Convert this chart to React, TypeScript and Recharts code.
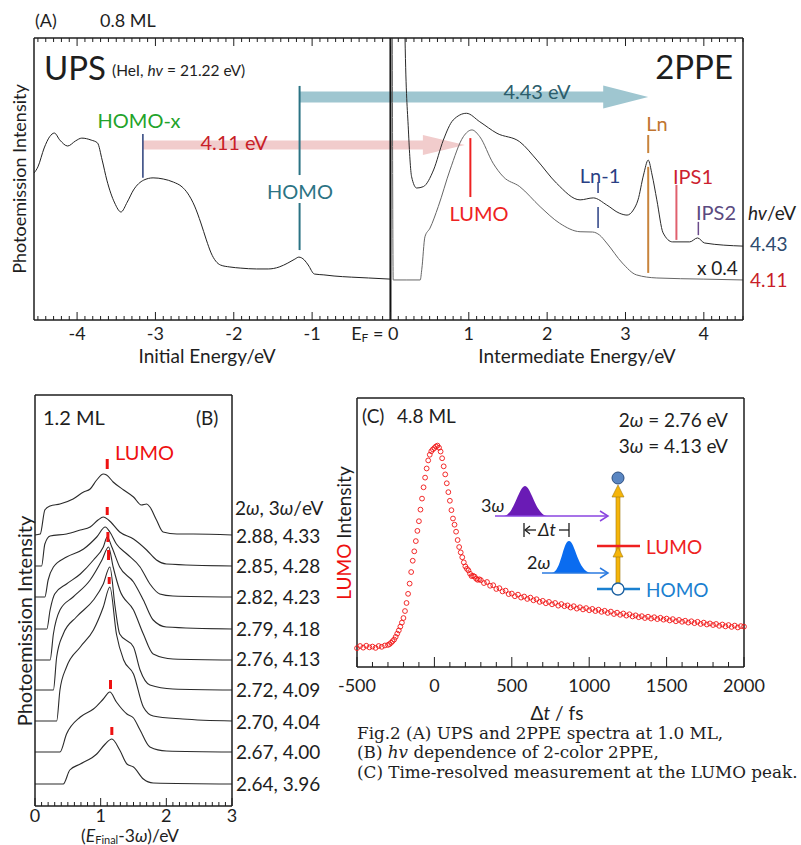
import React from 'react';
import { LineChart, ScatterChart, Line, Scatter, XAxis, YAxis, ReferenceLine } from 'recharts';

const FONT = 'Lato, "Open Sans", sans-serif';
const INK = '#1e1e1e';

// ---- (A) UPS / 2PPE spectra ----
const upsEnergy = [-4.55, -4.5, -4.42, -4.35, -4.29, -4.22, -4.12, -4.02, -3.94, -3.82, -3.74, -3.68, -3.62, -3.52, -3.44, -3.36, -3.28, -3.15, -3.03, -2.9, -2.77, -2.66, -2.59, -2.5, -2.42, -2.35, -2.29, -2.17, -2.05, -1.91, -1.71, -1.56, -1.42, -1.31, -1.22, -1.17, -1.1, -1.05, -0.97, -0.85, -0.72, -0.5, -0.28, 0];
const upsIntensity = [52.1, 54.3, 61, 65, 66.3, 63.8, 61.7, 63.5, 64.5, 63.8, 62.8, 56.7, 49.6, 41.5, 38.3, 41.8, 46.1, 49.6, 50.4, 50, 48.9, 47.2, 45, 40.4, 34.4, 28.4, 23.8, 19.5, 18.8, 18.4, 18.1, 18.1, 18.8, 20.2, 21.6, 22.3, 21.3, 19.5, 16.3, 16, 15.6, 15.2, 14.9, 14.5];

const ppe443Energy = [0.17, 0.186, 0.229, 0.27, 0.335, 0.42, 0.55, 0.675, 0.8, 0.97, 1.14, 1.36, 1.65, 1.87, 2.12, 2.42, 2.59, 2.76, 2.92, 3.02, 3.1, 3.16, 3.23, 3.29, 3.34, 3.4, 3.48, 3.6, 3.82, 3.92, 4.01, 4.5];
const ppe443Intensity = [150, 100, 67.4, 50.8, 46.8, 47.3, 53.2, 63.8, 70.9, 73.3, 70.3, 66.2, 63.2, 56.7, 48.5, 42.6, 43.3, 40.8, 37.9, 37.2, 39, 42.6, 51.4, 56.7, 51.4, 42.6, 30.9, 27.7, 27.7, 29.1, 27.3, 26.2];

const ppe411Energy = [0.02, 0.035, 0.2, 0.38, 0.4, 0.44, 0.505, 0.61, 0.76, 0.93, 1.04, 1.14, 1.31, 1.44, 1.65, 1.91, 2.16, 2.42, 2.58, 2.67, 2.76, 2.96, 3.14, 3.4, 4.0, 4.5];
const ppe411Intensity = [150, 14.2, 14.2, 14.2, 18, 29.5, 32.6, 40.2, 53.2, 65, 67.4, 65, 55.6, 50.8, 47.3, 40.2, 34.3, 31.3, 31.2, 30.1, 27.3, 20.2, 16, 14.9, 14.5, 14.2];

// level energies (eV)
const homoX = -3.16;
const homo = -1.16;
const lumo = 1.02;
const ln1 = 2.65;
const ln = 3.29;
const ips1 = 3.65;
const ips2 = 3.93;
const photon443End = 3.29;
const photon411End = 0.95;

// ---- (B) photon energy dependence ----
const bE288 = [0, 0.08, 0.15, 0.23, 0.38, 0.58, 0.74, 0.84, 0.94, 1.04, 1.09, 1.19, 1.35, 1.5, 1.62, 1.7, 1.75, 1.85, 1.95, 2.16, 2.41, 3.0];
const bI288 = [271, 272, 296, 300, 302, 307, 314, 317, 326, 332, 331, 324, 316, 309, 301, 302, 299, 286, 274, 272, 272, 271];
const bE285 = [0, 0.1, 0.15, 0.23, 0.48, 0.69, 0.84, 0.96, 1.04, 1.12, 1.29, 1.5, 1.7, 1.85, 2.0, 3.0];
const bI285 = [240, 240, 262, 270, 272, 276, 279, 286, 289, 286, 274, 267, 256, 246, 242, 240];
const bE282 = [0, 0.15, 0.2, 0.28, 0.48, 0.74, 0.94, 1.07, 1.14, 1.24, 1.4, 1.6, 1.75, 1.9, 2.1, 3.0];
const bI282 = [209, 209, 226, 239, 249, 257, 269, 279, 274, 262, 252, 239, 222, 212, 210, 209];
const bE279 = [0, 0.18, 0.23, 0.3, 0.48, 0.69, 0.89, 1.04, 1.1, 1.17, 1.29, 1.5, 1.65, 1.8, 2.0, 3.0];
const bI279 = [177, 177, 196, 212, 222, 232, 246, 259, 269, 259, 239, 224, 206, 186, 179, 177];
const bE276 = [0, 0.23, 0.28, 0.38, 0.58, 0.84, 1.02, 1.12, 1.19, 1.29, 1.5, 1.65, 1.8, 2.1, 3.0];
const bI276 = [146, 146, 172, 196, 209, 226, 246, 259, 239, 216, 196, 172, 152, 147, 146];
const bE272 = [0, 0.28, 0.33, 0.43, 0.63, 0.89, 1.04, 1.14, 1.22, 1.29, 1.5, 1.6, 1.75, 2.1, 3.0];
const bI272 = [116, 116, 149, 172, 189, 206, 222, 239, 199, 172, 159, 136, 121, 117, 116];
const bE270 = [0, 0.33, 0.38, 0.48, 0.69, 0.89, 1.04, 1.14, 1.24, 1.35, 1.5, 1.65, 1.8, 2.25, 3.0];
const bI270 = [85, 85, 116, 139, 159, 176, 199, 219, 172, 146, 132, 99, 90, 87, 85];
const bE267 = [0, 0.38, 0.48, 0.69, 0.89, 1.04, 1.14, 1.24, 1.4, 1.5, 1.6, 1.75, 2.0, 3.0];
const bI267 = [54, 54, 72, 89, 97, 107, 114, 104, 92, 88, 76, 59, 55, 54];
const bE264 = [0, 0.43, 0.53, 0.69, 0.94, 1.07, 1.17, 1.29, 1.4, 1.5, 1.65, 1.8, 3.0];
const bI264 = [22, 22, 36, 42, 52, 62, 67, 56, 42, 39, 27, 23, 22];
const bLabels = ['2.88, 4.33', '2.85, 4.28', '2.82, 4.23', '2.79, 4.18', '2.76, 4.13', '2.72, 4.09', '2.70, 4.04', '2.67, 4.00', '2.64, 3.96'];
// LUMO peak marks: energy, top, bottom
const bMarkE = [1.1, 1.1, 1.11, 1.12, 1.13, 1.15, 1.17];
const bMarkTop = [347, 299, 274, 256, 229, 126, 79];
const bMarkBottom = [337, 291, 264, 246, 222, 117, 71];

// ---- (C) time-resolved LUMO intensity ----
const cDelay = [
  -500, -480, -460, -440, -420, -400, -380, -360, -340, -320,
  -300, -290, -280, -270, -260, -250, -240, -230, -220, -210,
  -200, -190, -180, -170, -160, -150, -140, -130, -120, -110,
  -100, -90, -80, -70, -60, -50, -40, -30, -20, -10,
  0, 10, 20, 30, 40, 50, 60, 70, 80, 90,
  100, 110, 120, 130, 140, 150, 160, 170, 180, 190,
  200, 210, 220, 230, 240, 250, 260, 270, 280, 290,
  300, 320, 340, 360, 380, 400, 420, 440, 460, 480,
  500, 520, 540, 560, 580, 600, 620, 640, 660, 680,
  700, 720, 740, 760, 780, 800, 820, 840, 860, 880,
  900, 920, 940, 960, 980, 1000, 1020, 1040, 1060, 1080,
  1100, 1120, 1140, 1160, 1180, 1200, 1220, 1240, 1260, 1280,
  1300, 1320, 1340, 1360, 1380, 1400, 1420, 1440, 1460, 1480,
  1500, 1520, 1540, 1560, 1580, 1600, 1620, 1640, 1660, 1680,
  1700, 1720, 1740, 1760, 1780, 1800, 1820, 1840, 1860, 1880,
  1900, 1920, 1940, 1960, 1980, 2000,
];
const cIntensity = [
  7.0, 7.8, 7.2, 7.9, 7.3, 7.6, 7.1, 7.8, 7.5, 8.0,
  8.2, 8.5, 9.0, 9.6, 10.2, 11.2, 12.4, 13.6, 15.0, 16.5,
  18.2, 20.8, 23.8, 27.2, 31.0, 35.3, 39.5, 43.0, 46.8, 50.6,
  54.2, 58.5, 62.6, 66.8, 70.4, 73.8, 76.8, 78.9, 80.2, 80.9,
  81.4, 82.0, 82.3, 81.5, 80.1, 77.6, 74.6, 71.6, 68.3, 65.0,
  61.8, 58.3, 55.2, 52.9, 50.3, 47.2, 44.6, 42.6, 40.8, 38.9,
  37.4, 36.5, 35.9, 34.7, 33.8, 33.9, 33.6, 32.8, 32.4, 32.6,
  32.3, 31.2, 31.6, 30.2, 30.4, 29.0, 29.3, 28.1, 28.4, 27.1,
  27.3, 26.3, 26.9, 25.8, 26.2, 25.3, 25.8, 24.8, 25.2, 24.2,
  24.6, 23.7, 24.2, 23.3, 23.8, 22.8, 23.4, 22.6, 22.9, 22.1,
  22.6, 21.7, 22.2, 21.4, 21.9, 21.1, 21.6, 20.8, 21.3, 20.5,
  20.9, 20.1, 20.6, 19.7, 20.2, 19.4, 19.9, 19.1, 19.6, 18.8,
  19.2, 18.5, 18.9, 18.2, 18.7, 18.0, 18.5, 17.8, 18.3, 17.6,
  18.0, 17.3, 17.8, 17.0, 17.5, 16.8, 17.2, 16.5, 17.0, 16.3,
  16.8, 16.0, 16.5, 15.8, 16.2, 15.6, 16.0, 15.3, 15.8, 15.1,
  15.6, 14.9, 15.4, 14.7, 15.2, 15.0,
];
const cMajorLabels = [-500, 0, 500, 1000, 1500, 2000];

const pts = (xs: number[], ys: number[]) => xs.map((x, i) => ({ x, y: ys[i] }));
const range = (a: number, b: number, step: number) =>
  Array.from({ length: Math.round((b - a) / step) + 1 }, (_, i) => Math.round((a + i * step) * 1000) / 1000);

const isMult = (v: number, m: number) => Math.abs(v / m - Math.round(v / m)) < 1e-6;

// tick drawn inside the frame, with optional label below
const makeTick = (dir: 1 | -1, every: number, major: number, minor: number, labelDy?: number, labels?: number[]) =>
  (props: any) => {
    const { x, y, payload } = props;
    const v: number = payload.value;
    const maj = isMult(v, every);
    const showLabel = labelDy !== undefined && maj && (!labels || labels.includes(v));
    return (
      <g>
        <line x1={x} x2={x} y1={y} y2={y + dir * (maj ? major : minor)} stroke={INK} strokeWidth={1} />
        {showLabel ? (
          <text x={x} y={y + labelDy} textAnchor="middle" dominantBaseline="central" fontSize={18} fontFamily={FONT} fill={INK}>
            {v}
          </text>
        ) : null}
      </g>
    );
  };

const aBottomTick = (props: any) => {
  const { x, y, payload } = props;
  const v: number = payload.value;
  const maj = isMult(v, 1);
  return (
    <g>
      <line x1={x} x2={x} y1={y} y2={y - (maj ? 8 : 4)} stroke={INK} strokeWidth={1} />
      {maj && v !== 0 ? (
        <text x={x} y={y + 13} textAnchor="middle" dominantBaseline="central" fontSize={18} fontFamily={FONT} fill={INK}>{v}</text>
      ) : null}
      {v === 0 ? (
        <text x={x + 8} y={y + 13} textAnchor="end" dominantBaseline="central" fontSize={18} fontFamily={FONT} fill={INK}>
          <tspan>E</tspan>
          <tspan fontSize={12} dy={4}>F</tspan>
          <tspan dy={-4}> = 0</tspan>
        </text>
      ) : null}
    </g>
  );
};

const arrowShape = (color: string, thick: number, headW: number, headL: number) => (p: any) => {
  const { x1, y1, x2 } = p;
  const xb = x2 - headL;
  const d = `M${x1},${y1 - thick / 2} L${xb},${y1 - thick / 2} L${xb},${y1 - headW / 2} L${x2},${y1} L${xb},${y1 + headW / 2} L${xb},${y1 + thick / 2} L${x1},${y1 + thick / 2} Z`;
  return <path d={d} fill={color} />;
};

const Label = ({ x, y, size = 19, color = INK, anchor = 'start', family = FONT, children }: any) => {
  const tx = anchor === 'middle' ? '-50%' : anchor === 'end' ? '-100%' : '0';
  return (
    <div style={{ position: 'absolute', left: x, top: y, transform: `translate(${tx}, -50%)`, fontSize: size, color, lineHeight: 1, whiteSpace: 'nowrap', fontFamily: family }}>
      {children}
    </div>
  );
};

const VLabel = ({ x, y, size = 19, children }: any) => (
  <div style={{ position: 'absolute', left: x, top: y, transform: 'translate(-50%, -50%) rotate(-90deg)', fontSize: size, color: INK, lineHeight: 1, whiteSpace: 'nowrap', fontFamily: FONT }}>
    {children}
  </div>
);

const frameAxis = { stroke: INK, strokeWidth: 1.5 };

function PanelA() {
  const ticks = range(-4.5, 4.5, 0.1);
  const seg = (e: number, a: number, b: number) => [{ x: e, y: a }, { x: e, y: b }] as any;
  return (
    <div style={{ position: 'absolute', left: 0, top: 0 }}>
      <LineChart width={801} height={380} margin={{ top: 37, right: 57, bottom: 59, left: 33 }}>
        <XAxis xAxisId="b" type="number" dataKey="x" domain={[-4.55, 4.5]} allowDataOverflow ticks={ticks} interval={0} height={1} tickSize={0} tickMargin={0} tickLine={false} axisLine={frameAxis} tick={aBottomTick} />
        <XAxis xAxisId="t" orientation="top" type="number" dataKey="x" domain={[-4.55, 4.5]} allowDataOverflow ticks={ticks} interval={0} height={1} tickSize={0} tickMargin={0} tickLine={false} axisLine={frameAxis} tick={makeTick(1, 1, 8, 4)} />
        <YAxis yAxisId="l" type="number" domain={[0, 100]} allowDataOverflow width={1} tick={false} tickLine={false} axisLine={frameAxis} />
        <YAxis yAxisId="r" orientation="right" type="number" domain={[0, 100]} width={1} tick={false} tickLine={false} axisLine={frameAxis} />

        <ReferenceLine xAxisId="b" yAxisId="l" segment={[{ x: homo, y: 79.1 }, { x: photon443End, y: 79.1 }]} shape={arrowShape('#9fc6d0', 11, 23, 45)} />
        <ReferenceLine xAxisId="b" yAxisId="l" segment={[{ x: homoX, y: 62.1 }, { x: photon411End, y: 62.1 }]} shape={arrowShape('#f1cccc', 9, 20, 42)} />
        <ReferenceLine xAxisId="b" yAxisId="l" x={0} stroke="#111" strokeWidth={2} />

        <ReferenceLine xAxisId="b" yAxisId="l" segment={seg(homoX, 66, 50.4)} stroke="#2a3f7a" strokeWidth={1.5} />
        <ReferenceLine xAxisId="b" yAxisId="l" segment={seg(homo, 83, 51.4)} stroke="#2b7384" strokeWidth={2} />
        <ReferenceLine xAxisId="b" yAxisId="l" segment={seg(homo, 41.5, 24.8)} stroke="#2b7384" strokeWidth={2} />
        <ReferenceLine xAxisId="b" yAxisId="l" segment={seg(lumo, 64.5, 43.6)} stroke="#ee2222" strokeWidth={2} />
        <ReferenceLine xAxisId="b" yAxisId="l" segment={seg(ln1, 48.9, 45)} stroke="#2a3f84" strokeWidth={1.5} />
        <ReferenceLine xAxisId="b" yAxisId="l" segment={seg(ln1, 40.1, 32.6)} stroke="#2a3f84" strokeWidth={1.5} />
        <ReferenceLine xAxisId="b" yAxisId="l" segment={seg(ln, 65.6, 59.2)} stroke="#c8843c" strokeWidth={2} />
        <ReferenceLine xAxisId="b" yAxisId="l" segment={seg(ln, 54.3, 16.7)} stroke="#c8843c" strokeWidth={2} />
        <ReferenceLine xAxisId="b" yAxisId="l" segment={seg(ips1, 47.9, 28.4)} stroke="#e0606e" strokeWidth={2} />
        <ReferenceLine xAxisId="b" yAxisId="l" segment={seg(ips2, 34.8, 30.1)} stroke="#6a4a8a" strokeWidth={1.5} />

        <Line xAxisId="b" yAxisId="l" data={pts(upsEnergy, upsIntensity)} dataKey="y" type="monotone" stroke="#222" strokeWidth={1} dot={false} isAnimationActive={false} />
        <Line xAxisId="b" yAxisId="l" data={pts(ppe443Energy, ppe443Intensity)} dataKey="y" type="monotone" stroke="#2a2a2a" strokeWidth={1} dot={false} isAnimationActive={false} />
        <Line xAxisId="b" yAxisId="l" data={pts(ppe411Energy, ppe411Intensity)} dataKey="y" type="monotone" stroke="#666" strokeWidth={1} dot={false} isAnimationActive={false} />
      </LineChart>
    </div>
  );
}

function PanelB() {
  const ticks = range(0, 3, 0.1);
  const traces = [
    pts(bE288, bI288), pts(bE285, bI285), pts(bE282, bI282), pts(bE279, bI279), pts(bE276, bI276),
    pts(bE272, bI272), pts(bE270, bI270), pts(bE267, bI267), pts(bE264, bI264),
  ];
  return (
    <div style={{ position: 'absolute', left: 0, top: 380 }}>
      <LineChart width={330} height={465} margin={{ top: 14, right: 97, bottom: 38, left: 34 }}>
        <XAxis xAxisId="b" type="number" dataKey="x" domain={[0, 3]} ticks={ticks} interval={0} height={1} tickSize={0} tickMargin={0} tickLine={false} axisLine={frameAxis} tick={makeTick(-1, 1, 8, 4, 9)} />
        <XAxis xAxisId="t" orientation="top" type="number" dataKey="x" domain={[0, 3]} ticks={ticks} interval={0} height={1} tickSize={0} tickMargin={0} tickLine={false} axisLine={frameAxis} tick={makeTick(1, 1, 8, 4)} />
        <YAxis yAxisId="l" type="number" domain={[0, 411]} width={1} tick={false} tickLine={false} axisLine={frameAxis} />
        <YAxis yAxisId="r" orientation="right" type="number" domain={[0, 411]} width={1} tick={false} tickLine={false} axisLine={frameAxis} />
        {traces.map((d, i) => (
          <Line key={i} xAxisId="b" yAxisId="l" data={d} dataKey="y" type="monotone" stroke="#2a2a2a" strokeWidth={1.1} dot={false} isAnimationActive={false} />
        ))}
        {bMarkE.map((e, i) => (
          <ReferenceLine key={'m' + i} xAxisId="b" yAxisId="l" segment={[{ x: e, y: bMarkTop[i] }, { x: e, y: bMarkBottom[i] }]} stroke="#ee1111" strokeWidth={3} />
        ))}
      </LineChart>
    </div>
  );
}

const ring = (p: any) => <circle cx={p.cx} cy={p.cy} r={2.4} fill="none" stroke="#f01414" strokeWidth={0.9} />;

function PanelC() {
  const ticks = range(-500, 2000, 100);
  return (
    <div style={{ position: 'absolute', left: 330, top: 380 }}>
      <ScatterChart width={471} height={320} margin={{ top: 17, right: 56, bottom: 32, left: 26 }}>
        <XAxis xAxisId="b" type="number" dataKey="x" domain={[-500, 2000]} ticks={ticks} interval={0} height={1} tickSize={0} tickMargin={0} tickLine={false} axisLine={frameAxis} tick={makeTick(-1, 500, 10, 5, 18, cMajorLabels)} />
        <XAxis xAxisId="t" orientation="top" type="number" dataKey="x" domain={[-500, 2000]} ticks={ticks} interval={0} height={1} tickSize={0} tickMargin={0} tickLine={false} axisLine={frameAxis} tick={makeTick(1, 500, 10, 5)} />
        <YAxis yAxisId="l" type="number" dataKey="y" domain={[0, 100]} width={1} tick={false} tickLine={false} axisLine={frameAxis} />
        <YAxis yAxisId="r" orientation="right" type="number" dataKey="y" domain={[0, 100]} width={1} tick={false} tickLine={false} axisLine={frameAxis} />
        <Scatter xAxisId="b" yAxisId="l" data={pts(cDelay, cIntensity)} shape={ring} isAnimationActive={false} />
      </ScatterChart>
    </div>
  );
}

function Schematic() {
  return (
    <svg width={801} height={845} style={{ position: 'absolute', left: 0, top: 0, pointerEvents: 'none' }}>
      {/* 3w pulse */}
      <path d="M504,516 C514,515 519,486 525,486 C531,486 536,515 547,516 Z" fill="#6a1bb5" />
      <line x1={495} y1={516} x2={607} y2={516} stroke="#8a44e0" strokeWidth={1.5} />
      <polyline points="600,511 608,516 600,521" fill="none" stroke="#8a44e0" strokeWidth={1.5} />
      {/* delay bracket */}
      <line x1={524} y1={523} x2={524} y2={537} stroke={INK} strokeWidth={1.3} />
      <line x1={525} y1={530} x2={536} y2={530} stroke={INK} strokeWidth={1.3} />
      <polyline points="530,526 525,530 530,534" fill="none" stroke={INK} strokeWidth={1.3} />
      <text x={538} y={536} fontSize={18} fontStyle="italic" fontFamily={FONT} fill={INK}>Δt</text>
      <line x1={559} y1={530} x2={569} y2={530} stroke={INK} strokeWidth={1.3} />
      <line x1={569} y1={523} x2={569} y2={537} stroke={INK} strokeWidth={1.3} />
      {/* 2w pulse */}
      <path d="M552,573 C561,572 563,541 569,541 C575,541 578,572 591,573 Z" fill="#0a6cf0" />
      <line x1={542} y1={573} x2={607} y2={573} stroke="#2a7ae0" strokeWidth={1.5} />
      <polyline points="600,568 608,573 600,578" fill="none" stroke="#2a7ae0" strokeWidth={1.5} />
      {/* excitation arrow */}
      <rect x={616} y={494} width={4} height={95} fill="#f5b50a" stroke="#a07810" strokeWidth={0.6} />
      <polygon points="612,497 618,485 624,497" fill="#f5b50a" stroke="#a07810" strokeWidth={0.6} />
      <polygon points="613,557 618,547 623,557" fill="#f5b50a" stroke="#a07810" strokeWidth={0.6} />
      <circle cx={618} cy={478} r={6} fill="#5a86c2" stroke="#2d4f80" strokeWidth={1} />
      <line x1={597} y1={546} x2={640} y2={546} stroke="#ee2020" strokeWidth={2.5} />
      <line x1={597} y1={589} x2={640} y2={589} stroke="#1a80d0" strokeWidth={2.5} />
      <circle cx={618} cy={589} r={6} fill="#fff" stroke="#1a5fa0" strokeWidth={1.3} />
    </svg>
  );
}

const SERIF = '"DejaVu Serif", serif';

export default function App() {
  return (
    <div style={{ position: 'absolute', left: 0, top: 0, width: 801, height: 845, background: '#fff', fontFamily: FONT, color: INK, overflow: 'hidden' }}>
      <PanelA />
      <PanelB />
      <PanelC />
      <Schematic />

      {/* (A) annotations */}
      <Label x={35} y={20} size={18}>(A)</Label>
      <Label x={100} y={20} size={18}>0.8 ML</Label>
      <Label x={44} y={67} size={33}>UPS</Label>
      <Label x={112} y={71} size={15.5}>(HeI, <i>hv</i> = 21.22 eV)</Label>
      <Label x={733} y={66} size={33} anchor="end">2PPE</Label>
      <Label x={537} y={91} size={20} anchor="middle" color="#2b5d6b">4.43 eV</Label>
      <Label x={234} y={142} size={20} anchor="middle" color="#c81e28">4.11 eV</Label>
      <Label x={139} y={120} size={20} anchor="middle" color="#23a32a">HOMO-x</Label>
      <Label x={300} y={191} size={20} anchor="middle" color="#2b7384">HOMO</Label>
      <Label x={479} y={213} size={20} anchor="middle" color="#ee2222">LUMO</Label>
      <Label x={600} y={175} size={20} anchor="middle" color="#2a3f84">Ln-1</Label>
      <Label x={657} y={123} size={20} anchor="middle" color="#c07530">Ln</Label>
      <Label x={693} y={176} size={20} anchor="middle" color="#cc1f2f">IPS1</Label>
      <Label x={716} y={212} size={20} anchor="middle" color="#5b4a80">IPS2</Label>
      <Label x={748} y={212} size={19}><i>hv</i>/eV</Label>
      <Label x={750} y={243} size={19} color="#2d4a6e">4.43</Label>
      <Label x={697} y={267} size={19}>x 0.4</Label>
      <Label x={750} y={279} size={19} color="#c81e28">4.11</Label>
      <Label x={207} y={355} size={19} anchor="middle">Initial Energy/eV</Label>
      <Label x={577} y={355} size={19} anchor="middle">Intermediate Energy/eV</Label>
      <VLabel x={19} y={179} size={18}>Photoemission Intensity</VLabel>

      {/* (B) annotations */}
      <Label x={43} y={417} size={20}>1.2 ML</Label>
      <Label x={196} y={417} size={19}>(B)</Label>
      <Label x={115} y={452} size={20} color="#ee1111">LUMO</Label>
      <Label x={235} y={507} size={19}>2<i>ω</i>, 3<i>ω</i>/eV</Label>
      {bLabels.map((t, i) => (
        <Label key={t} x={236} y={[535, 565, 596, 628, 658, 689, 721, 751, 783][i]} size={19}>{t}</Label>
      ))}
      <Label x={130} y={836} size={17.5} anchor="middle">
        (<i>E</i><span style={{ fontSize: 11, position: 'relative', top: 2 }}>Final</span>-3<i>ω</i>)/eV
      </Label>
      <VLabel x={24} y={621} size={20}>Photoemission Intensity</VLabel>

      {/* (C) annotations */}
      <Label x={362} y={415} size={19}>(C)</Label>
      <Label x={397} y={415} size={19}>4.8 ML</Label>
      <Label x={728} y={419} size={19} anchor="end">2<i>ω</i> = 2.76 eV</Label>
      <Label x={728} y={445} size={19} anchor="end">3<i>ω</i> = 4.13 eV</Label>
      <Label x={481} y={505} size={18}>3<i>ω</i></Label>
      <Label x={527} y={562} size={18}>2<i>ω</i></Label>
      <Label x={646} y={546} size={19} color="#ee2020">LUMO</Label>
      <Label x={646} y={589} size={19} color="#1a80d0">HOMO</Label>
      <Label x={557} y={712} size={19} anchor="middle">Δ<i>t</i> / fs</Label>
      <VLabel x={343} y={533} size={19}><span style={{ color: '#ee1111' }}>LUMO</span> Intensity</VLabel>

      {/* caption */}
      <Label x={357} y={733} size={16.8} family={SERIF}>Fig.2 (A) UPS and 2PPE spectra at 1.0 ML,</Label>
      <Label x={357} y={752} size={16.8} family={SERIF}>(B) <i>hv</i> dependence of 2-color 2PPE,</Label>
      <Label x={357} y={772} size={16.8} family={SERIF}>(C) Time-resolved measurement at the LUMO peak.</Label>
    </div>
  );
}
